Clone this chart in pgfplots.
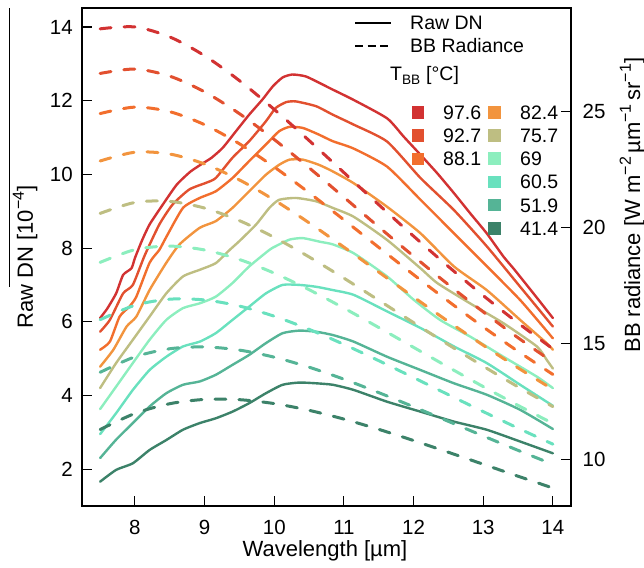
\documentclass[border=0pt]{standalone}
\usepackage{fontspec}
\setmainfont{Liberation Sans}
\usepackage{pgfplots}
\usepackage{pgfplotstable}
\pgfplotsset{compat=1.18}

\definecolor{cA}{HTML}{D23232}
\definecolor{cB}{HTML}{E2502F}
\definecolor{cC}{HTML}{F26E2D}
\definecolor{cD}{HTML}{F2943E}
\definecolor{cE}{HTML}{BEBE82}
\definecolor{cF}{HTML}{8CEEBE}
\definecolor{cG}{HTML}{69E1BE}
\definecolor{cH}{HTML}{55B496}
\definecolor{cI}{HTML}{3C8269}

% BB radiance (W m^-2 um^-1 sr^-1) for each blackbody temperature
\pgfplotstableread{
lam  b976   b927   b881   b824   b757   b690   b605   b519   b414
7.5  28.571 26.648 24.918 22.874 20.614 18.502 16.031 13.763 11.296
8.0  28.653 26.837 25.198 23.252 21.087 19.051 16.653 14.431 11.989
8.5  28.222 26.531 24.999 23.174 21.133 19.204 16.916 14.779 12.410
9.0  27.412 25.854 24.438 22.745 20.844 19.038 16.883 14.859 12.595
9.5  26.339 24.914 23.615 22.058 20.302 18.628 16.620 14.721 12.584
10.0 25.096 23.800 22.615 21.191 19.581 18.038 16.181 14.415 12.415
10.5 23.757 22.581 21.505 20.209 18.738 17.325 15.616 13.984 12.125
11.0 22.375 21.312 20.337 19.161 17.822 16.532 14.967 13.466 11.746
11.5 20.990 20.031 19.150 18.085 16.869 15.695 14.265 12.888 11.305
12.0 19.634 18.769 17.973 17.009 15.906 14.839 13.536 12.277 10.822
12.5 18.323 17.543 16.825 15.953 14.954 13.985 12.798 11.649 10.316
13.0 17.072 16.369 15.720 14.931 14.027 13.147 12.069 11.020 9.800
13.5 15.889 15.253 14.667 13.954 13.135 12.337 11.355 10.399 9.284
14.0 14.774 14.202 13.671 13.026 12.284 11.559 10.666 9.795 8.775
}\bbtable

\newcommand{\tickfont}{\fontsize{20.5bp}{23bp}\selectfont}
\newcommand{\legfont}{\fontsize{19.5bp}{22bp}\selectfont}
\newcommand{\labfont}{\fontsize{22bp}{26bp}\selectfont}
\newcommand{\sups}[1]{\raisebox{0.42em}{\fontsize{16bp}{16bp}\selectfont #1}}

\begin{document}
\begin{tikzpicture}
\pgfplotsset{
  myax/.style={scale only axis, width=489bp, height=498bp,
    at={(0bp,0bp)}, anchor=south west,
    xmin=7.24, xmax=14.26,
    tick align=inside, major tick length=10bp,
    every tick/.style={black, line width=1.1bp},
    tick label style={font=\tickfont, /pgf/number format/assume math mode=true},
    axis line style={line width=1.1bp},
  },
  sol/.style={line width=2.4bp, line join=round, line cap=round, smooth, tension=0.35},
  das/.style={line width=3bp, line cap=round, dash pattern=on 11bp off 13bp, smooth},
}
\begin{axis}[myax,
  ymin=1.0, ymax=14.515,
  xtick={8,9,...,14}, ytick={2,4,...,14},
  xtick pos=left, ytick pos=left,
  yticklabel style={inner sep=0pt, xshift=-9bp},
  xticklabel style={inner sep=0pt, yshift=-14bp},
  xlabel={Wavelength [µm]},
  xlabel style={font=\labfont, at={(axis description cs:0.497,-0.1024)}, anchor=base},
  ylabel={Raw DN [10\sups{−4}]},
  ylabel style={font=\labfont, at={(axis description cs:-0.1002,0.5)}, anchor=base},
]
% Raw DN, 97.6
\addplot[sol, cA] coordinates {(7.5,6.10)(7.6,6.35)(7.73,6.77)(7.83,7.27)(7.95,7.45)(8.0,7.73)(8.1,8.2)(8.21,8.64)(8.4,9.18)(8.6,9.72)(8.8,10.08)(9.0,10.33)(9.1,10.45)(9.26,10.72)(9.45,11.17)(9.64,11.62)(9.83,12.03)(9.98,12.39)(10.12,12.63)(10.26,12.71)(10.45,12.66)(10.65,12.48)(10.84,12.30)(11.14,12.02)(11.62,11.52)(11.86,11.02)(12.10,10.53)(12.34,10.03)(12.58,9.49)(12.81,8.95)(13.05,8.40)(13.29,7.77)(13.45,7.41)(13.75,6.70)(14.0,6.10)};
% 92.7
\addplot[sol, cB] coordinates {(7.5,5.73)(7.64,6.05)(7.83,6.77)(7.97,7.0)(8.14,7.8)(8.35,8.64)(8.54,9.18)(8.78,9.59)(9.02,9.77)(9.16,9.90)(9.40,10.45)(9.64,10.9)(9.88,11.44)(10.02,11.80)(10.17,11.96)(10.31,11.98)(10.60,11.85)(10.84,11.62)(11.14,11.35)(11.62,10.89)(12.10,9.9)(12.58,9.03)(13.05,8.05)(13.53,6.95)(13.77,6.4)(14.0,5.87)};
% 88.1
\addplot[sol, cC] coordinates {(7.5,5.24)(7.64,5.46)(7.78,6.14)(7.92,6.41)(8.02,6.68)(8.21,7.6)(8.35,7.95)(8.45,8.3)(8.69,9.09)(8.93,9.36)(9.16,9.54)(9.40,9.90)(9.64,10.36)(9.88,10.81)(10.07,11.17)(10.22,11.29)(10.41,11.26)(10.64,11.08)(10.84,10.9)(11.14,10.7)(11.62,10.21)(12.10,9.31)(12.58,8.40)(12.96,7.68)(13.53,6.59)(14.0,5.55)};
% 82.4
\addplot[sol, cD] coordinates {(7.5,4.78)(7.69,5.24)(7.88,5.87)(8.02,6.14)(8.21,6.86)(8.45,7.6)(8.64,8.1)(8.93,8.55)(9.16,8.73)(9.40,9.09)(9.64,9.54)(9.88,9.99)(10.07,10.26)(10.22,10.40)(10.41,10.40)(10.64,10.26)(10.84,10.08)(11.14,9.76)(11.62,9.12)(12.10,8.40)(12.58,7.5)(13.05,6.86)(13.53,6.05)(13.91,5.42)(14.0,5.24)};
% 75.7
\addplot[sol, cE] coordinates {(7.5,4.20)(7.73,4.88)(7.97,5.51)(8.21,6.14)(8.45,6.77)(8.69,7.23)(8.93,7.41)(9.16,7.59)(9.36,7.95)(9.50,8.19)(9.74,8.64)(9.93,9.09)(10.07,9.31)(10.31,9.36)(10.60,9.27)(10.84,9.09)(11.14,8.85)(11.62,8.22)(12.10,7.45)(12.34,7.05)(12.81,6.50)(13.29,5.96)(13.77,5.33)(13.91,4.97)(14.0,4.73)};
% 69
\addplot[sol, cF] coordinates {(7.5,3.63)(7.73,4.24)(7.97,4.88)(8.21,5.51)(8.45,6.05)(8.69,6.37)(8.93,6.50)(9.16,6.68)(9.40,7.05)(9.64,7.50)(9.93,7.95)(10.02,8.05)(10.22,8.23)(10.41,8.27)(10.66,8.17)(10.84,8.10)(11.14,7.86)(11.62,7.23)(12.0,6.6)(12.38,6.05)(12.81,5.60)(13.29,5.05)(13.77,4.51)(14.0,4.20)};
% 60.5
\addplot[sol, cG] coordinates {(7.5,2.95)(7.73,3.52)(7.97,4.15)(8.21,4.69)(8.45,5.05)(8.69,5.33)(8.93,5.46)(9.16,5.69)(9.40,6.05)(9.64,6.41)(9.88,6.77)(10.12,7.0)(10.36,7.0)(10.60,6.95)(10.84,6.86)(11.14,6.73)(11.62,6.28)(12.10,5.83)(12.58,5.33)(13.05,4.88)(13.53,4.29)(14.0,3.72)};
% 51.9
\addplot[sol, cH] coordinates {(7.5,2.30)(7.73,2.80)(7.97,3.25)(8.21,3.70)(8.45,4.06)(8.69,4.29)(8.93,4.38)(9.16,4.56)(9.40,4.83)(9.64,5.10)(9.88,5.42)(10.12,5.69)(10.36,5.76)(10.60,5.73)(10.84,5.64)(11.14,5.46)(11.62,5.05)(12.10,4.69)(12.58,4.33)(13.05,4.02)(13.53,3.61)(14.0,3.09)};
% 41.4
\addplot[sol, cI] coordinates {(7.5,1.66)(7.73,1.98)(7.97,2.16)(8.21,2.52)(8.45,2.79)(8.69,3.07)(8.93,3.25)(9.16,3.38)(9.40,3.56)(9.64,3.79)(9.88,4.06)(10.12,4.29)(10.36,4.35)(10.60,4.33)(10.84,4.29)(11.14,4.15)(11.62,3.83)(12.10,3.56)(12.58,3.29)(13.05,3.07)(13.53,2.75)(14.0,2.43)};
\end{axis}

\begin{axis}[myax,
  ymin=8.0, ymax=29.47,
  axis y line*=right, axis x line=none,
  ytick={10,15,20,25},
  yticklabel style={inner sep=0pt, xshift=11.5bp},
  ylabel={BB radiance [W m\sups{−2}\,µm\sups{−1}\,sr\sups{−1}]},
  ylabel style={font=\labfont, at={(axis description cs:1.1411,0.604)}, anchor=base},
]
\addplot[das, cA] table[x=lam, y=b976] {\bbtable};
\addplot[das, cB] table[x=lam, y=b927] {\bbtable};
\addplot[das, cC] table[x=lam, y=b881] {\bbtable};
\addplot[das, cD] table[x=lam, y=b824] {\bbtable};
\addplot[das, cE] table[x=lam, y=b757] {\bbtable};
\addplot[das, cF] table[x=lam, y=b690] {\bbtable};
\addplot[das, cG] table[x=lam, y=b605] {\bbtable};
\addplot[das, cH] table[x=lam, y=b519] {\bbtable};
\addplot[das, cI] table[x=lam, y=b414] {\bbtable};
\end{axis}

% legend
\begin{scope}[font=\legfont]
\draw[line width=1.3bp] (273bp,483bp) -- (309bp,483bp);
\node[anchor=base west, inner sep=0pt] at (328bp,476bp) {Raw DN};
\draw[line width=1.3bp, dash pattern=on 8bp off 4.5bp] (273bp,460bp) -- (309bp,460bp);
\node[anchor=base west, inner sep=0pt] at (328bp,453bp) {BB Radiance};
\node[anchor=base west, inner sep=0pt] at (308bp,425bp) {T\textsubscript{BB} [°C]};
\foreach \c/\y/\t in {cA/393.5/97.6, cB/370.3/92.7, cC/347.1/88.1}{
  \fill[\c] (336bp,\y bp) ++(-6.25bp,-6.25bp) rectangle ++(12.5bp,12.5bp);
  \node[anchor=base west, inner sep=0pt] at (361bp,\y bp-7bp) {\t};
}
\foreach \c/\y/\t in {cD/393.7/82.4, cE/370.5/75.7, cF/347.3/69, cG/324.1/60.5, cH/300.9/51.9, cI/277.7/41.4}{
  \fill[\c] (412.5bp,\y bp) ++(-6.25bp,-6.25bp) rectangle ++(12.5bp,12.5bp);
  \node[anchor=base west, inner sep=0pt] at (438bp,\y bp-7bp) {\t};
}
\end{scope}
\draw[line width=0.8bp] (-73bp,219bp) -- (-73bp,498bp);

\pgfresetboundingbox
\useasboundingbox (-82bp,-62bp) rectangle (562bp,506bp);
\end{tikzpicture}
\end{document}
